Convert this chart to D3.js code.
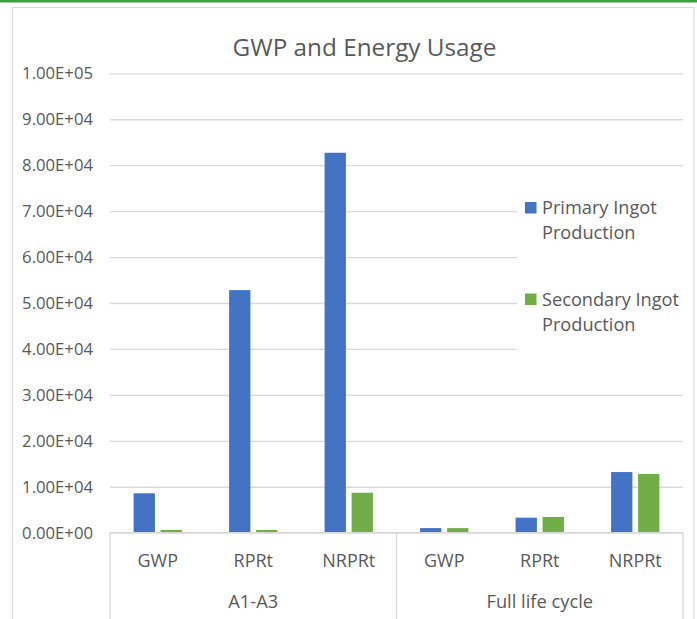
<!DOCTYPE html>
<html>
<head>
<meta charset="utf-8">
<script src="https://cdn.jsdelivr.net/npm/d3@7"></script>
<style>
  html, body { margin: 0; padding: 0; background: #fff; }
  svg { display: block; }
  text { font-family: "Open Sans", "Noto Sans", sans-serif; fill: #595959; }
</style>
</head>
<body>
<svg id="chart" width="697" height="619"></svg>
<script>
// ---- data ----
const groups = ["A1-A3", "Full life cycle"];
const metrics = ["GWP", "RPRt", "NRPRt"];
const seriesNames = ["Primary Ingot Production", "Secondary Ingot Production"];
const primaryValues = [8580, 52800, 82700, 1000, 3270, 13200];
const secondaryValues = [600, 600, 8700, 1000, 3420, 12800];
const yTickValues = [0, 10000, 20000, 30000, 40000, 50000, 60000, 70000, 80000, 90000, 100000];
const chartTitle = "GWP and Energy Usage";

// ---- build rows ----
const categories = [];
groups.forEach(g => metrics.forEach(m => categories.push(g + "|" + m)));
const rows = categories.map((c, i) => ({
  key: c, group: c.split("|")[0], metric: c.split("|")[1],
  values: [primaryValues[i], secondaryValues[i]]
}));

const colors = ["#4472C4", "#70AD47"];
const svg = d3.select("#chart");

const plotLeft = 110, plotRight = 683, plotTop = 73.3, plotBottom = 532.7;

// top green strip and chart border
svg.append("rect").attr("x", 0).attr("y", 0).attr("width", 697).attr("height", 2.5).attr("fill", "#3f9f3f");
svg.append("rect").attr("x", 12.5).attr("y", 7.5).attr("width", 681.5).attr("height", 640)
  .attr("fill", "none").attr("stroke", "#d9d9d9").attr("stroke-width", 1.2);

const y = d3.scaleLinear().domain([0, 100000]).range([plotBottom, plotTop]);
const x0 = d3.scaleBand().domain(categories).range([plotLeft, plotRight]).padding(0);
const x1 = d3.scaleBand().domain([0, 1]).range([0, x0.bandwidth()]).paddingInner(0.211).paddingOuter(0.874);

// gridlines
const grid = svg.append("g").attr("transform", `translate(${plotLeft},0)`)
  .call(d3.axisLeft(y).tickValues(yTickValues).tickSize(-(plotRight - plotLeft)).tickFormat(""));
grid.select(".domain").remove();
grid.selectAll("line").attr("stroke", "#d9d9d9").attr("stroke-width", 1.3);

// y tick labels
function sci(v) {
  if (v === 0) return "0.00E+00";
  const e = Math.floor(Math.log10(Math.abs(v)));
  const m = v / Math.pow(10, e);
  const es = (e < 0 ? "-" : "+") + String(Math.abs(e)).padStart(2, "0");
  return m.toFixed(2) + "E" + es;
}
const yAxis = svg.append("g").attr("transform", `translate(${plotLeft},0)`)
  .call(d3.axisLeft(y).tickValues(yTickValues).tickSize(0).tickPadding(17).tickFormat(sci));
yAxis.select(".domain").remove();
yAxis.selectAll("text").attr("font-size", "16.7px").attr("fill", "#595959")
  .attr("font-family", "'Open Sans', sans-serif");

// bars
const barG = svg.append("g");
rows.forEach(r => {
  r.values.forEach((v, si) => {
    barG.append("rect")
      .attr("x", x0(r.key) + x1(si))
      .attr("y", y(v))
      .attr("width", x1.bandwidth())
      .attr("height", y(0) - y(v))
      .attr("fill", colors[si]);
  });
});

// category axis
const catAxis = svg.append("g").attr("transform", `translate(0,${plotBottom})`)
  .call(d3.axisBottom(x0).tickSize(0).tickPadding(0).tickFormat(d => d.split("|")[1]));
catAxis.select(".domain").remove();
catAxis.selectAll("text").attr("font-size", "18px").attr("dy", null).attr("y", 34.5)
  .attr("font-family", "'Open Sans', sans-serif").attr("fill", "#595959");

const axLine = "#d9d9d9";
svg.append("line").attr("x1", plotLeft).attr("x2", plotRight).attr("y1", plotBottom).attr("y2", plotBottom)
  .attr("stroke", axLine).attr("stroke-width", 1.3);
// group boundaries
const boundaries = [plotLeft];
groups.forEach(g => {
  const cats = rows.filter(r => r.group === g);
  boundaries.push(x0(cats[cats.length - 1].key) + x0.bandwidth());
});
boundaries.forEach(bx => {
  svg.append("line").attr("x1", bx).attr("x2", bx).attr("y1", plotBottom).attr("y2", 619)
    .attr("stroke", axLine).attr("stroke-width", 1.3);
});
// group labels
groups.forEach(g => {
  const cats = rows.filter(r => r.group === g);
  const cx = (x0(cats[0].key) + x0(cats[cats.length - 1].key) + x0.bandwidth()) / 2;
  svg.append("text").attr("x", cx).attr("y", 608).attr("text-anchor", "middle")
    .attr("font-size", "18.3px").text(g);
});

// title
svg.append("text").attr("x", 364.5).attr("y", 56).attr("text-anchor", "middle")
  .attr("font-size", "24.3px").text(chartTitle);

// legend
const legend = svg.append("g");
legend.append("rect").attr("x", 517).attr("y", 185).attr("width", 166).attr("height", 185).attr("fill", "#fff");
const legendY = [202, 293.5];
seriesNames.forEach((name, i) => {
  legend.append("rect").attr("x", 525).attr("y", legendY[i]).attr("width", 11.5).attr("height", 11.5)
    .attr("fill", colors[i]);
  const words = name.split(" ");
  const line1 = words.slice(0, 2).join(" "), line2 = words.slice(2).join(" ");
  const t = legend.append("text").attr("x", 542).attr("y", legendY[i] + 12.3).attr("font-size", "18.2px");
  t.append("tspan").attr("x", 542).text(line1);
  t.append("tspan").attr("x", 542).attr("dy", 25).text(line2);
});
</script>
</body>
</html>
